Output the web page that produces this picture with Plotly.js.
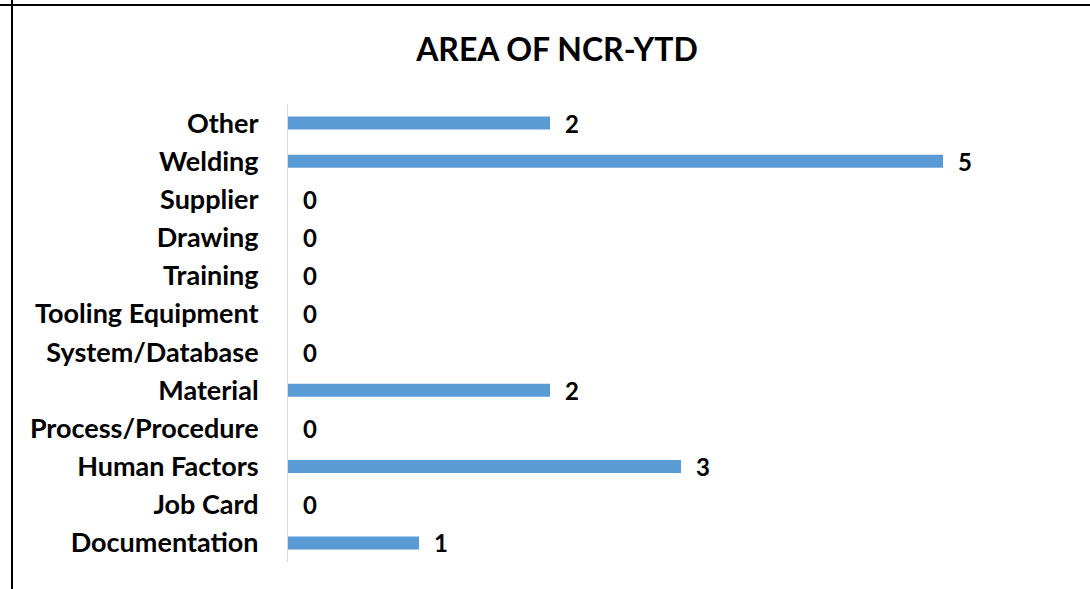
<!DOCTYPE html>
<html>
<head>
<meta charset="utf-8">
<script src="https://cdn.plot.ly/plotly-3.0.1.min.js"></script>
<style>
  html, body { margin: 0; padding: 0; background: #fff; }
  #wrap { position: relative; width: 1090px; height: 589px; overflow: hidden; }
  #chart { position: absolute; left: 0; top: 0; width: 1090px; height: 589px; }
  .hline { position: absolute; left: 0; top: 4px; width: 1090px; height: 2px; background: #000; }
  .vline { position: absolute; left: 11px; top: 0; width: 2px; height: 589px; background: #000; }
</style>
</head>
<body>
<div id="wrap">
  <div id="chart"></div>
  <div class="hline"></div>
  <div class="vline"></div>
</div>
<script>
// Categories listed bottom-to-top as they appear on the chart
var categories = ["Documentation", "Job Card", "Human Factors", "Process/Procedure", "Material",
                  "System/Database", "Tooling Equipment", "Training", "Drawing", "Supplier",
                  "Welding", "Other"];
var counts = [1, 0, 3, 0, 2, 0, 0, 0, 0, 0, 5, 2];
var chartTitle = "AREA OF NCR-YTD";

var FONT = "Lato, 'Open Sans', sans-serif";

var trace = {
  type: "bar",
  orientation: "h",
  y: categories,
  x: counts,
  marker: { color: "#5B9BD5" },
  hoverinfo: "none"
};

var annotations = categories.map(function (c, i) {
  return {
    x: counts[i], y: c, xref: "x", yref: "y",
    text: String(counts[i]), showarrow: false,
    xanchor: "left", yanchor: "middle", xshift: 13,
    font: { family: FONT, size: 24, color: "#000", weight: "bold" }
  };
});

var layout = {
  width: 1090, height: 589,
  paper_bgcolor: "rgba(0,0,0,0)",
  plot_bgcolor: "rgba(0,0,0,0)",
  margin: { l: 288, r: 16, t: 104, b: 27, pad: 0 },
  bargap: 0.66,
  showlegend: false,
  title: {
    text: chartTitle,
    xref: "container", yref: "container",
    x: 557 / 1090, xanchor: "center",
    y: 1 - 50 / 589, yanchor: "middle",
    font: { family: FONT, size: 32, color: "#000", weight: "bold" }
  },
  xaxis: {
    range: [0, 6], visible: false, showgrid: false, zeroline: false, fixedrange: true
  },
  yaxis: {
    type: "category",
    categoryorder: "array", categoryarray: categories,
    showline: true, linecolor: "#D9D9D9", linewidth: 1,
    showgrid: false, zeroline: false, ticks: "",
    ticklabelstandoff: 23,
    tickfont: { family: FONT, size: 27, color: "#000", weight: "bold" },
    fixedrange: true
  },
  annotations: annotations
};

Plotly.newPlot("chart", [trace], layout, { displayModeBar: false, staticPlot: true });
</script>
</body>
</html>
